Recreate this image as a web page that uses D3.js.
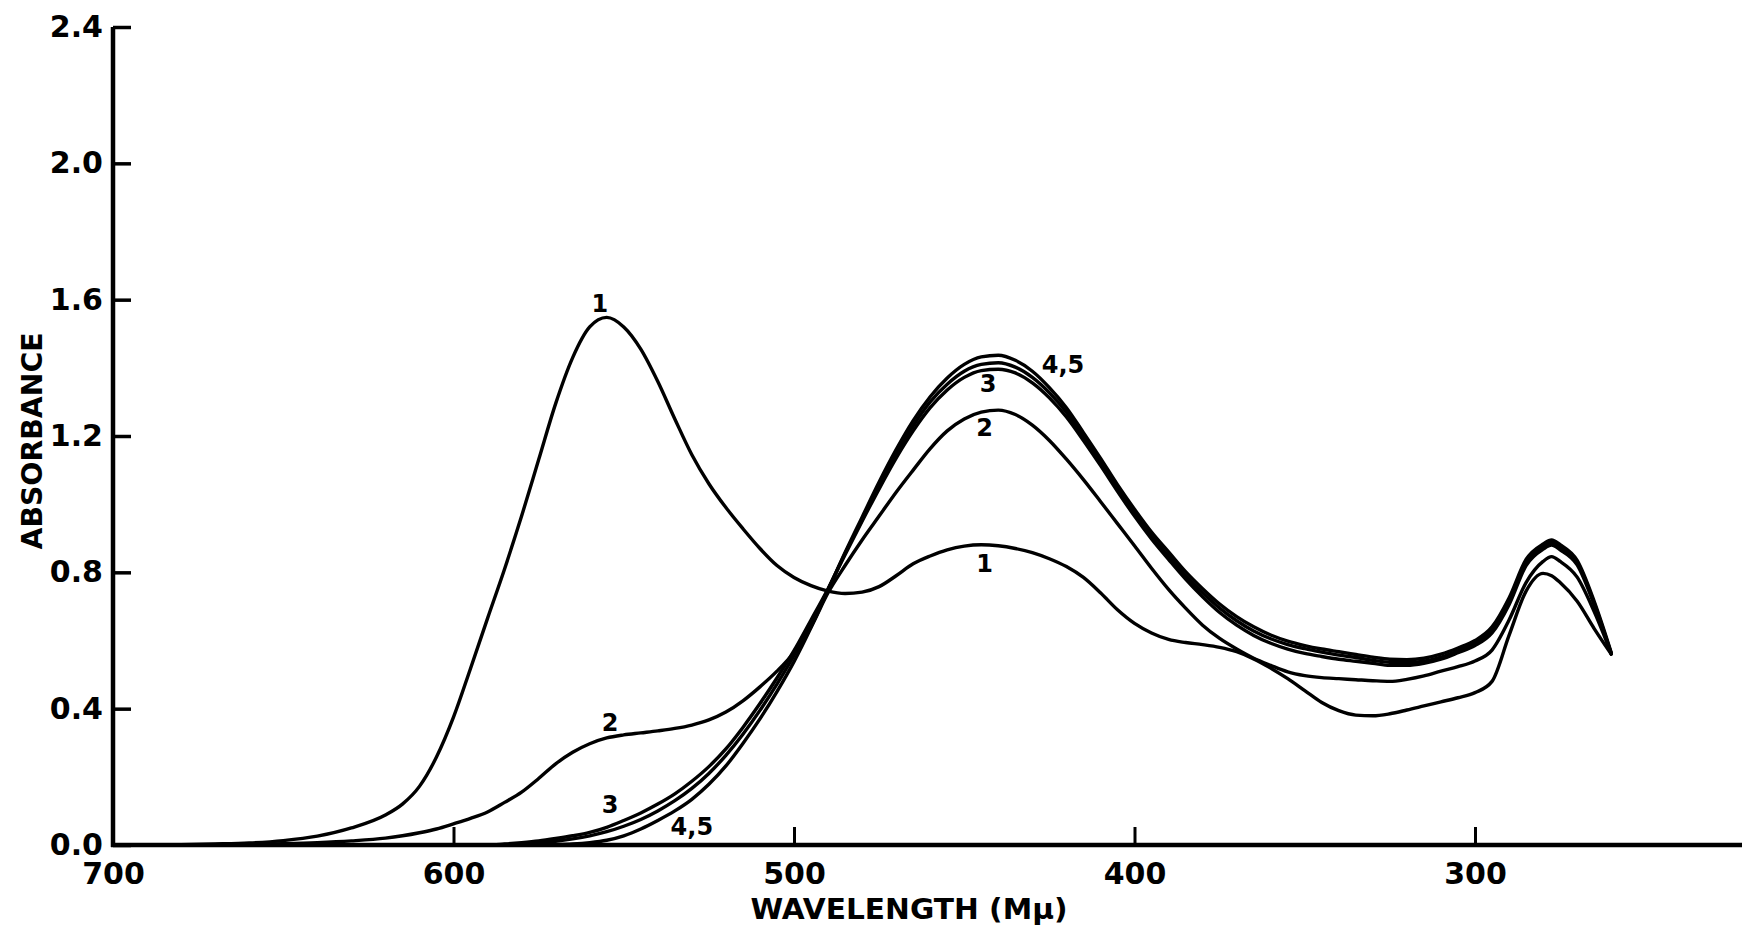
<!DOCTYPE html>
<html>
<head>
<meta charset="utf-8">
<script src="https://cdn.jsdelivr.net/npm/d3@7"></script>
<style>
  html, body { margin: 0; padding: 0; background: #fff; }
  svg { display: block; }
  text { font-family: "DejaVu Sans", "Liberation Sans", sans-serif; font-weight: bold; fill: #000; }
</style>
</head>
<body>
<script>
// Absorption spectra, absorbance vs wavelength (mμ), five curves
const wavelengths = [690,680,670,660,650,640,630,
  620,615,610,605,600,595,590,585,580,575,570,565,560,555,550,545,540,535,530,525,520,515,510,505,500,
  495,490,485,480,475,470,465,460,455,450,445,440,435,430,425,420,415,410,405,400,
  395,390,385,380,375,370,365,360,355,350,345,340,335,330,325,320,315,310,305,300,
  295,290,285,280,277.5,275,270,265,260];

const curve1 = [0.000,0.001,0.003,0.006,0.013,0.026,0.05,
  0.088,0.12,0.172,0.258,0.375,0.518,0.665,0.81,0.965,1.13,1.295,1.43,1.52,1.548,1.52,1.455,1.36,1.25,1.145,1.06,0.99,0.928,0.87,0.82,0.785,
  0.761,0.745,0.738,0.742,0.758,0.79,0.825,0.848,0.866,0.877,0.881,0.878,0.87,0.858,0.84,0.817,0.785,0.74,0.69,0.65,
  0.622,0.603,0.594,0.588,0.58,0.567,0.546,0.519,0.488,0.453,0.418,0.394,0.381,0.379,0.385,0.396,0.408,0.42,0.432,0.447,
  0.48,0.615,0.745,0.797,0.79,0.77,0.715,0.635,0.56];

const curve2 = [0,0,0.001,0.002,0.004,0.007,0.012,
  0.02,0.027,0.036,0.047,0.062,0.078,0.097,0.125,0.155,0.195,0.238,0.272,0.297,0.314,0.323,0.329,0.335,0.342,0.352,0.367,0.39,0.423,0.464,0.51,0.565,
  0.64,0.74,0.82,0.895,0.965,1.035,1.1,1.163,1.215,1.25,1.27,1.276,1.263,1.232,1.187,1.132,1.072,1.008,0.943,0.878,
  0.812,0.75,0.695,0.645,0.606,0.575,0.548,0.527,0.508,0.497,0.491,0.488,0.485,0.482,0.48,0.486,0.496,0.51,0.523,0.54,
  0.572,0.66,0.77,0.832,0.846,0.832,0.786,0.685,0.562];

const curve3 = [0,0,0,0,0,0,0,
  0,0,0,0,0,0,0,0.003,0.007,0.012,0.019,0.027,0.037,0.052,0.072,0.094,0.12,0.15,0.187,0.23,0.282,0.345,0.415,0.49,0.57,
  0.66,0.752,0.852,0.95,1.045,1.135,1.215,1.283,1.335,1.372,1.392,1.396,1.385,1.356,1.312,1.256,1.187,1.114,1.038,0.965,
  0.898,0.838,0.78,0.728,0.682,0.645,0.615,0.592,0.575,0.562,0.553,0.545,0.539,0.533,0.527,0.527,0.533,0.545,0.564,0.585,
  0.622,0.705,0.82,0.868,0.88,0.866,0.822,0.705,0.56];

const curve4 = [0,0,0,0,0,0,0,
  0,0,0,0,0,0,0,0.001,0.003,0.006,0.011,0.018,0.027,0.039,0.055,0.075,0.1,0.13,0.166,0.21,0.263,0.325,0.395,0.472,0.556,
  0.65,0.75,0.855,0.955,1.055,1.148,1.23,1.3,1.352,1.39,1.41,1.415,1.402,1.372,1.327,1.27,1.198,1.123,1.045,0.973,
  0.906,0.848,0.79,0.74,0.695,0.658,0.628,0.605,0.588,0.576,0.566,0.557,0.55,0.542,0.536,0.535,0.539,0.551,0.57,0.592,
  0.632,0.715,0.83,0.876,0.888,0.874,0.83,0.71,0.562];

const curve5 = [0,0,0,0,0,0,0,
  0,0,0,0,0,0,0,0,0,0,0.001,0.003,0.007,0.014,0.027,0.047,0.072,0.1,0.134,0.178,0.232,0.298,0.37,0.45,0.538,
  0.638,0.748,0.858,0.962,1.065,1.16,1.245,1.315,1.37,1.41,1.432,1.437,1.422,1.39,1.342,1.283,1.21,1.135,1.057,0.985,
  0.918,0.86,0.802,0.752,0.707,0.67,0.64,0.616,0.598,0.585,0.575,0.567,0.559,0.551,0.545,0.544,0.548,0.56,0.578,0.6,
  0.64,0.725,0.838,0.883,0.895,0.881,0.835,0.715,0.565];

const xTicks = [700, 600, 500, 400, 300];
const yTicks = [0, 0.4, 0.8, 1.2, 1.6, 2.0, 2.4];

// Curve labels: text and the (wavelength, absorbance) spot where each sits
const labelTexts = ["1", "1", "2", "2", "3", "3", "4,5", "4,5"];
const labelWl    = [557, 444, 444, 554, 443, 554, 421, 530];
const labelAbs   = [1.565, 0.8, 1.2, 0.335, 1.33, 0.095, 1.386, 0.03];

const W = 1742, H = 929;
const svg = d3.select("body").append("svg").attr("width", W).attr("height", H);
svg.append("rect").attr("width", W).attr("height", H).attr("fill", "#fff");

const x = d3.scaleLinear().domain([700, 300]).range([113, 1475]);
const y = d3.scaleLinear().domain([0, 2.4]).range([845, 27]);

// Spectra
const series = [curve1, curve2, curve3, curve4, curve5];
const line = d3.line()
  .x((d, i) => x(wavelengths[i]))
  .y(d => y(d))
  .curve(d3.curveMonotoneX);

svg.append("g").selectAll("path").data(series).join("path")
  .attr("d", d => line(d))
  .attr("fill", "none")
  .attr("stroke", "#000")
  .attr("stroke-width", 3.4)
  .attr("stroke-linejoin", "round")
  .attr("stroke-linecap", "round");

// Y axis: ticks point inward, labels on the left
const yAxis = d3.axisLeft(y)
  .tickValues(yTicks)
  .tickFormat(d3.format(".1f"))
  .tickSizeInner(-18)
  .tickSizeOuter(0)
  .tickPadding(10);
const gy = svg.append("g").attr("transform", `translate(${x(700)},0)`).call(yAxis);
gy.select(".domain").remove();
gy.selectAll(".tick line").attr("stroke", "#000").attr("stroke-width", 3.5);
gy.selectAll(".tick text").attr("font-size", 30).attr("font-family", "DejaVu Sans").attr("font-weight", "bold");

// X axis: ticks point upward, labels below
const xAxis = d3.axisBottom(x)
  .tickValues(xTicks)
  .tickFormat(d3.format("d"))
  .tickSizeInner(-18)
  .tickSizeOuter(0)
  .tickPadding(18);
const gx = svg.append("g").attr("transform", `translate(0,${y(0)})`).call(xAxis);
gx.select(".domain").remove();
gx.selectAll(".tick line").attr("stroke", "#000").attr("stroke-width", 3);
gx.selectAll(".tick text").attr("font-size", 30).attr("font-family", "DejaVu Sans").attr("font-weight", "bold");

// Axis lines
svg.append("line")
  .attr("x1", x(700)).attr("x2", x(700))
  .attr("y1", y(0) + 2).attr("y2", y(2.4))
  .attr("stroke", "#000").attr("stroke-width", 4.5);
svg.append("line")
  .attr("x1", x(700) - 2).attr("x2", W)
  .attr("y1", y(0)).attr("y2", y(0))
  .attr("stroke", "#000").attr("stroke-width", 4.5);

// Axis titles
svg.append("text")
  .attr("transform", `translate(42,441) rotate(-90)`)
  .attr("text-anchor", "middle")
  .attr("font-size", 28)
  .attr("textLength", 217)
  .attr("lengthAdjust", "spacingAndGlyphs")
  .text("ABSORBANCE");

svg.append("text")
  .attr("x", 909).attr("y", 919)
  .attr("text-anchor", "middle")
  .attr("font-size", 28)
  .attr("textLength", 317)
  .attr("lengthAdjust", "spacingAndGlyphs")
  .text("WAVELENGTH (Mμ)");

// Curve labels
svg.append("g").selectAll("text").data(labelTexts).join("text")
  .attr("x", (d, i) => x(labelWl[i]))
  .attr("y", (d, i) => y(labelAbs[i]))
  .attr("text-anchor", "middle")
  .attr("font-size", 24)
  .text(d => d);
</script>
</body>
</html>
